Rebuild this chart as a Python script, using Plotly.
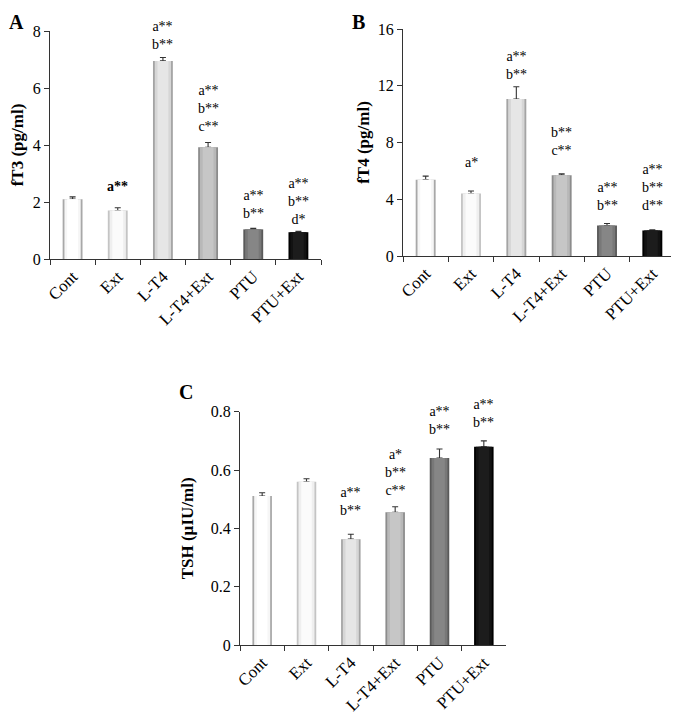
import plotly.graph_objects as go

groups = ["Cont", "Ext", "L-T4", "L-T4+Ext", "PTU", "PTU+Ext"]

ft3 = [2.10, 1.70, 6.95, 3.92, 1.04, 0.94]
ft3_err = [0.08, 0.10, 0.12, 0.17, 0.04, 0.03]
ft3_sig = ["", "<b>a**</b>", "a**<br>b**", "a**<br>b**<br>c**", "a**<br>b**", "a**<br>b**<br>d*"]

ft4 = [5.38, 4.40, 11.07, 5.70, 2.15, 1.80]
ft4_err = [0.25, 0.18, 0.86, 0.10, 0.14, 0.04]
ft4_sig = ["", "a*", "a**<br>b**", "b**<br>c**", "a**<br>b**", "a**<br>b**<br>d**"]

tsh = [0.511, 0.560, 0.363, 0.455, 0.641, 0.680]
tsh_err = [0.011, 0.010, 0.017, 0.019, 0.031, 0.020]
tsh_sig = ["", "", "a**<br>b**", "a*<br>b**<br>c**", "a**<br>b**", "a**<br>b**"]

# styling: cylinder-like shading layers (edge, mid, centre)
edge = ["#a8a8a8", "#c4c4c4", "#a4a4a4", "#8c8c8c", "#5a5a5a", "#000000"]
mid = ["#f6f6f6", "#efefef", "#d6d6d6", "#b8b8b8", "#787878", "#121212"]
cen = ["#ffffff", "#fbfbfb", "#e6e6e6", "#c6c6c6", "#868686", "#1c1c1c"]
layer_w = [0.44, 0.36, 0.24]

FONT = "Liberation Serif"
OFF = 8  # page body margin
W, H = 679 - OFF, 718 - OFF


def fx(px):
    return (px - OFF) / W


def fy(py):
    return 1 - (py - OFF) / H


panels = [
    dict(vals=ft3, err=ft3_err, sig=ft3_sig, title="fT3 (pg/ml)", rng=[0, 8], dt=2,
         px=(50, 321), py=(31, 259), letter="A", lpos=(16, 22), tstand=6,
         tsize=17, ticksize=16, shifts=[0, 12, 3, 6, 5, 2]),
    dict(vals=ft4, err=ft4_err, sig=ft4_sig, title="fT4 (pg/ml)", rng=[0, 16], dt=4,
         px=(403, 675), py=(29, 256), letter="B", lpos=(359, 22), tstand=3,
         tsize=17, ticksize=16, shifts=[0, 19, 3, 14, 9, 15]),
    dict(vals=tsh, err=tsh_err, sig=tsh_sig, title="TSH (µIU/ml)", rng=[0, 0.8], dt=0.2,
         px=(240, 506), py=(411.7, 645), letter="C", lpos=(186, 392), tstand=12,
         tsize=17, ticksize=16, shifts=[0, 0, 14, 7, 10, 9]),
]

fig = go.Figure()
annotations = []
for i, p in enumerate(panels):
    n = "" if i == 0 else str(i + 1)
    xa, ya = "x" + n, "y" + n
    for li, (w, cols) in enumerate(zip(layer_w, [edge, mid, cen])):
        kw = {}
        if li == 0:
            kw["error_y"] = dict(type="data", array=p["err"], arrayminus=[0] * 6,
                                 symmetric=False, color="#333333", thickness=1.1, width=3)
        fig.add_trace(go.Bar(x=groups, y=p["vals"], width=w, marker=dict(color=cols, line=dict(width=0)),
                             xaxis=xa, yaxis=ya, showlegend=False, hoverinfo="skip", **kw))
    x0, x1 = p["px"]
    yt, yb = p["py"]
    fig.layout["xaxis" + n] = dict(
        domain=[fx(x0), fx(x1)], anchor=ya, type="category", range=[-0.5, 5.5], automargin=False,
        showline=True, linecolor="#333333", linewidth=1, ticks="outside", tickson="boundaries",
        ticklen=5, tickcolor="#333333", tickangle=-45, showgrid=False, zeroline=False,
        tickfont=dict(family=FONT, size=17, color="black"))
    fig.layout["yaxis" + n] = dict(
        domain=[fy(yb), fy(yt)], anchor=xa, range=p["rng"], dtick=p["dt"], tick0=0,
        automargin=False,
        showline=True, linecolor="#333333", linewidth=1, ticks="outside", ticklen=5,
        tickcolor="#333333", showgrid=False, zeroline=False,
        tickfont=dict(family=FONT, size=p["ticksize"], color="black"),
        title=dict(text="<b>" + p["title"] + "</b>", standoff=p["tstand"],
                   font=dict(family=FONT, size=p["tsize"], color="black")))
    for g, v, e, s, sh in zip(groups, p["vals"], p["err"], p["sig"], p["shifts"]):
        if s:
            annotations.append(dict(x=g, y=v + e, xref=xa, yref=ya, text=s, showarrow=False,
                                    yanchor="bottom", yshift=sh,
                                    font=dict(family=FONT, size=14, color="black")))
    lx, ly = p["lpos"]
    annotations.append(dict(x=fx(lx), y=fy(ly), xref="paper", yref="paper", text="<b>" + p["letter"] + "</b>",
                            showarrow=False, xanchor="center", yanchor="middle",
                            font=dict(family=FONT, size=20, color="black")))

fig.update_layout(width=W, height=H, margin=dict(l=0, r=0, t=0, b=0), barmode="overlay",
                  plot_bgcolor="white", paper_bgcolor="white", annotations=annotations)
fig.write_html("out.html")
